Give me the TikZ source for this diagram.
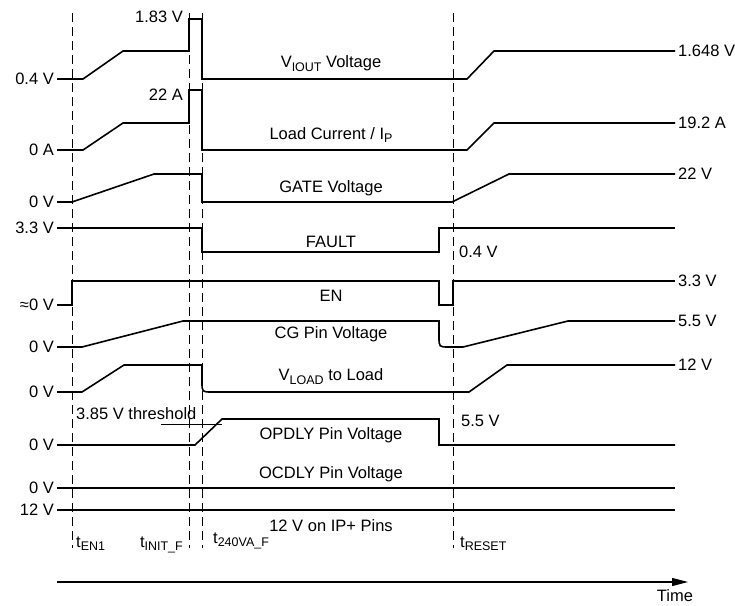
\documentclass[tikz,border=0pt]{standalone}
\usepackage{fontspec}
\setmainfont{Liberation Sans}
\usetikzlibrary{arrows.meta}
\newcommand\subtxt[1]{\raisebox{-0.45ex}{\fontsize{12.5}{13}\selectfont #1}}
\tikzset{
  sig/.style = {line width=1.6pt, line join=miter},% signal trace
  rail/.style = {line width=2.1pt},% flat supply trace
  guide/.style = {line width=0.9pt, dash pattern=on 9pt off 5pt},% time marker
  lvl/.style = {anchor=east, inner sep=3pt},% level, left side
  rlvl/.style = {anchor=west, inner sep=3pt},% level, right side
  wave/.style = {inner sep=1pt}% signal name
}
\begin{document}
\begin{tikzpicture}[x=1pt, y=-1pt, font=\fontsize{16.5}{19}\selectfont]
\useasboundingbox (0,0) rectangle (735,605);
% time markers
\foreach \x in {72,189,202,453}
  \draw[guide] (\x,13) -- (\x,548);
% V_IOUT
\node[lvl] (iout0) at (57,79) {0.4 V};
\node[rlvl] (iout1) at (675,51) {1.648 V};
\node[lvl] (iout2) at (186,17) {1.83 V};
\node[wave] (iout3) at (331,64) {V\subtxt{IOUT} Voltage};
\draw[sig] (iout0.east) -- (83,79) -- (123,51) -- (189,51) -- (189,19) -- (202,19)
  -- (202,79) -- (467,79) -- (494,51) -- (iout1.west);
% load current
\node[lvl] (ip0) at (57,150) {0 A};
\node[rlvl] (ip1) at (675,123) {19.2 A};
\node[lvl] (ip2) at (186,95) {22 A};
\node[wave] (ip3) at (331,135) {Load Current / I\subtxt{P}};
\draw[sig] (ip0.east) -- (83,150) -- (123,123) -- (189,123) -- (189,90) -- (202,90)
  -- (202,150) -- (467,150) -- (494,123) -- (ip1.west);
% gate
\node[lvl] (gate0) at (57,202) {0 V};
\node[rlvl] (gate1) at (675,174) {22 V};
\node[wave] (gate2) at (331,188) {GATE Voltage};
\draw[sig] (gate0.east) -- (72,202) -- (154,174) -- (202,174) -- (202,202)
  -- (452,202) -- (509,174) -- (gate1.west);
% fault
\node[lvl] (flt0) at (57,228) {3.3 V};
\node[rlvl] (flt1) at (456,252) {0.4 V};
\node[wave] (flt2) at (331,242) {FAULT};
\draw[sig] (flt0.east) -- (202,228) -- (202,252) -- (439,252) -- (439,228) -- (675,228);
% enable
\node[lvl] (en0) at (57,305) {≈0 V};
\node[rlvl] (en1) at (675,281) {3.3 V};
\node[wave] (en2) at (331,296) {EN};
\draw[sig] (en0.east) -- (72,305) -- (72,281) -- (439,281) -- (439,305) -- (453,305)
  -- (453,281) -- (en1.west);
% CG pin
\node[lvl] (cg0) at (57,347) {0 V};
\node[rlvl] (cg1) at (675,321) {5.5 V};
\node[wave] (cg2) at (331,334) {CG Pin Voltage};
\draw[sig] (cg0.east) -- (82,347) -- (183,321) -- (439,321) -- (439,337)
  .. controls (439,347) .. (449,347) -- (463,347) -- (568,321) -- (cg1.west);
% V_LOAD
\node[lvl] (vl0) at (57,392) {0 V};
\node[rlvl] (vl1) at (675,365) {12 V};
\node[wave] (vl2) at (331,377) {V\subtxt{LOAD} to Load};
\draw[sig] (vl0.east) -- (82,392) -- (124,365) -- (202,365) -- (202,382)
  .. controls (202,392) .. (212,392) -- (469,392) -- (507,365) -- (vl1.west);
% OPDLY
\node[lvl] (op0) at (57,445) {0 V};
\node[rlvl] (op1) at (458,421) {5.5 V};
\node[wave] (op2) at (331,435) {OPDLY Pin Voltage};
\node[rlvl] (op3) at (73,414) {3.85 V threshold};
\draw[sig] (op0.east) -- (195,445) -- (222,419) -- (439,419) -- (439,445) -- (675,445);
\draw[line width=0.7pt] (161,424) -- (222,424);
% OCDLY and IP+
\node[lvl] (oc0) at (57,488) {0 V};
\node[wave] (oc1) at (331,474) {OCDLY Pin Voltage};
\draw[rail] (oc0.east) -- (675,488);
\node[lvl] (vp0) at (57,510) {12 V};
\node[wave] (vp1) at (331,526) {12 V on IP+ Pins};
\draw[rail] (vp0.east) -- (675,510);
% time labels
\node[anchor=base west, inner sep=3pt] (t1) at (73,547) {t\subtxt{EN1}};
\node[anchor=base east, inner sep=3pt] (t2) at (186,547) {t\subtxt{INIT\_F}};
\node[anchor=base west, inner sep=3pt] (t3) at (210,543) {t\subtxt{240VA\_F}};
\node[anchor=base west, inner sep=3pt] (t4) at (457,547) {t\subtxt{RESET}};
% time axis
\coordinate (ax0) at (57,582);
\coordinate (ax1) at (688,582);
\draw[line width=1.1pt, -{Triangle[length=16pt, width=8pt]}] (ax0) -- (ax1);
\node (time) at (675,596) {Time};
\end{tikzpicture}
\end{document}
